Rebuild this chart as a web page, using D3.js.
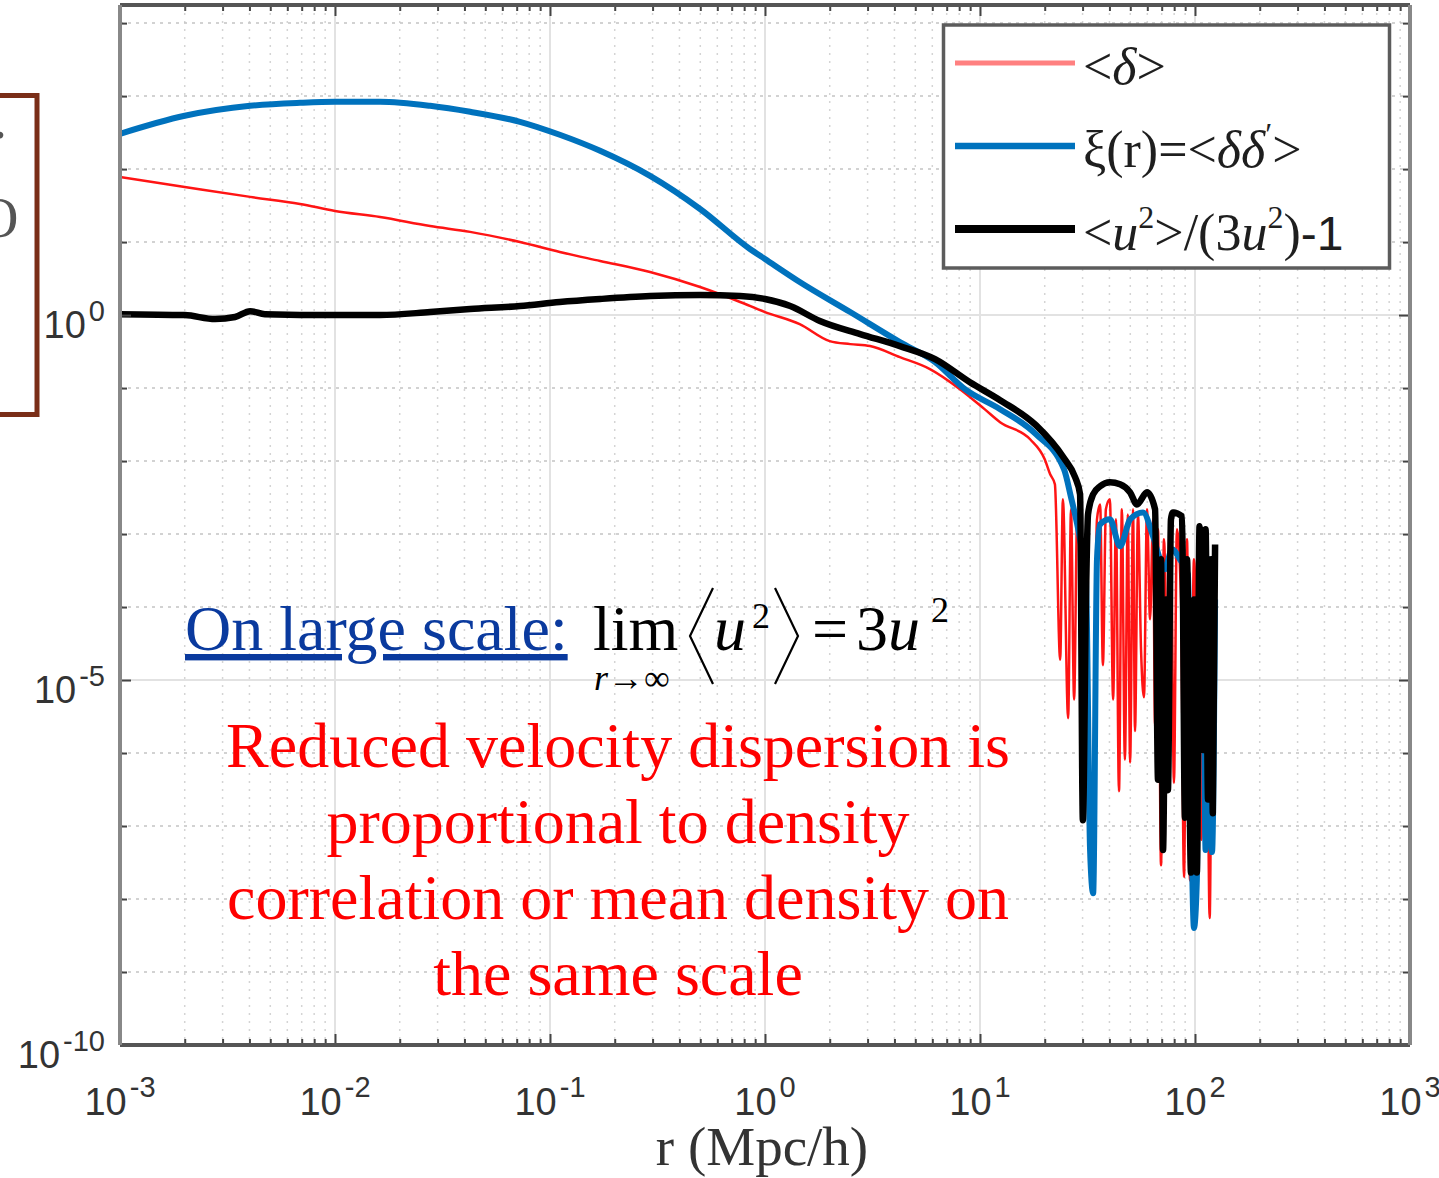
<!DOCTYPE html>
<html>
<head>
<meta charset="utf-8">
<script src="https://cdn.jsdelivr.net/npm/d3@7"></script>
<style>
    body { margin: 0; background: #fff; }
    svg { display: block; }
    .sans { font-family: 'Liberation Sans', Arial, sans-serif; }
    .serif { font-family: 'Liberation Serif', 'Times New Roman', serif; }
</style>
</head>
<body>
<div id="chart"></div>
<script>
// Log-log plot: <delta>, xi(r) and reduced velocity dispersion vs r

// <delta>
const rDelta = [0.001, 0.002, 0.00403, 0.00687, 0.01, 0.0162, 0.0277, 0.0425, 0.0725, 0.111,
    0.171, 0.292, 0.499, 0.766, 1.0, 1.45, 2.0, 2.49, 3.08, 4.24, 5.85, 8.07, 10.5, 12.4, 17.1,
    20.0, 21.2, 22.3, 23.6, 24.3, 25.7, 26.5, 27.4, 28.3, 29.2, 30.1, 31.8, 33.2, 35.0, 36.2,
    37.3, 38.5, 40.2, 41.6, 42.9, 44.3, 45.7, 47.2, 48.7, 49.9, 51.5, 52.6, 54.3, 56.1, 57.9,
    59.8, 61.8, 63.8, 65.2, 67.3, 69.5, 71.7, 74.8, 77.3, 79.8, 82.4, 86.1, 88.9, 91.8, 94.8,
    98.9, 103, 107, 110, 114, 117, 121, 124];
const vDelta = [78.2, 57.0, 41.6, 33.3, 26.7, 22.1, 16.6, 13.8, 10.0, 7.31,
    5.51, 3.89, 2.42, 1.51, 1.10, 0.753, 0.44, 0.40, 0.376, 0.265, 0.182, 0.0966, 0.0514, 0.0341, 0.0199,
    0.0106, 6.59e-3, 4.81e-3, 1.9e-5, 2.99e-3, 3.0e-6, 2.18e-3, 5.4e-6, 1.59e-3, 8.5e-4, 4.5e-4, 4.3e-7, 3.7e-8, 1.59e-3, 2.55e-3,
    1.6e-5, 2.18e-3, 2.99e-3, 5.4e-6, 1.59e-3, 3.0e-7, 2.18e-3, 8.1e-7, 1.86e-3, 7.4e-7, 2.18e-3, 2.0e-6, 1.86e-3, 2.6e-5, 5.8e-6,
    2.18e-3, 6.8e-5, 1.59e-3, 2.3e-6, 1.16e-3, 2.9e-8, 8.5e-4, 5.4e-6, 1.16e-3, 3.9e-7, 1.16e-3, 1.27e-4, 2.0e-8, 8.5e-4, 1.8e-8,
    4.5e-4, 5.4e-6, 6.5e-8, 7.2e-4, 5.4e-6, 5.5e-9, 4.5e-4, 2.4e-4];

// xi(r) = <delta delta'>
const rXi = [0.001, 0.002, 0.00403, 0.00687, 0.01, 0.0162, 0.0277, 0.0425, 0.0725, 0.111,
    0.171, 0.292, 0.499, 0.851, 1.0, 1.45, 2.49, 4.24, 6.18, 8.51, 12.4, 18.2, 24.6, 26.5, 29.2,
    31.1, 32.5, 33.6, 35.0, 36.2, 40.2, 44.8, 49.9, 57.3, 63.8, 68.8, 72.5, 78.1, 85.1, 92.7,
    95.8, 98.9, 102, 105, 109, 112, 116, 120, 124];
const vXi = [304, 537, 736, 809, 836, 836, 736, 609, 444, 295,
    178, 80.7, 28.4, 8.04, 5.86, 2.84, 1.10, 0.426, 0.227, 0.0966, 0.0514, 0.0233, 7.71e-3, 3.19e-3, 8.5e-4,
    2.4e-4, 4.7e-8, 1.2e-8, 4.5e-4, 1.36e-3, 1.59e-3, 6.8e-4, 1.59e-3, 1.98e-3, 9.3e-4, 4.5e-4, 3.3e-4, 6.2e-4, 4.5e-4, 2.8e-4,
    2.3e-7, 4.0e-9, 1.8e-8, 2.4e-4, 1.27e-4, 4.7e-8, 4.5e-4, 4.4e-8, 1.27e-4];

// <u^2>/(3u^2) - 1
const rVel = [0.001, 0.002, 0.00277, 0.00343, 0.00403, 0.00472, 0.01, 0.0162, 0.0277, 0.0425,
    0.0725, 0.111, 0.171, 0.292, 0.499, 0.766, 1.0, 1.31, 1.80, 2.77, 4.24, 6.18, 8.98, 12.4, 18.2,
    24.6, 27.7, 29.2, 30.1, 31.1, 31.8, 33.6, 36.2, 40.2, 44.8, 49.9, 53.7, 59.8, 65.2, 67.3,
    69.5, 71.0, 73.3, 74.8, 77.3, 79.0, 87.0, 89.8, 91.8, 95.8, 98.9, 102, 105, 109, 112,
    115, 119, 121, 124];
const vVel = [1.03, 1.0, 0.88, 0.94, 1.13, 1.03, 1.0, 1.0, 1.10, 1.21,
    1.33, 1.51, 1.66, 1.82, 1.88, 1.82, 1.66, 1.33, 0.83, 0.549, 0.376, 0.249, 0.120, 0.0682, 0.0310,
    0.0109, 6.0e-3, 3.51e-3, 1.2e-7, 1.27e-4, 1.86e-3, 3.51e-3, 4.51e-3, 5.12e-3, 4.81e-3, 3.73e-3, 2.55e-3, 3.73e-3, 2.18e-3, 4.3e-7,
    4.5e-4, 4.7e-8, 1.27e-4, 3.1e-7, 1.59e-3, 1.98e-3, 1.75e-3, 1.3e-7, 4.5e-4, 2.3e-8, 1.27e-4, 2.3e-8, 1.28e-3, 1.1e-6, 1.16e-3,
    2.3e-7, 4.5e-4, 1.5e-7, 7.2e-4];

// Axis ticks (exponents of 10)
const xTickExp = [-3, -2, -1, 0, 1, 2, 3];
const yTickExp = [0, -5, -10];
const yDomain = [1e-10, 1.77e4];

// Legend labels, ^ marks a superscript character
const legendLabels = ['<δ>', 'ξ(r)=<δδ^′>', '<u^2>/(3u^2)-1'];

const noteLines = ['Reduced velocity dispersion is', 'proportional to density',
    'correlation or mean density on', 'the same scale'];

const W = 1439, H = 1178;
const margin = {top: 5, right: 29, bottom: 133, left: 120};
const width = W - margin.left - margin.right;
const height = H - margin.top - margin.bottom;

const svg = d3.select('#chart').append('svg')
    .attr('width', W)
    .attr('height', H);

// Stray box from the slide on the left
svg.append('rect')
    .attr('x', -30).attr('y', 95.5)
    .attr('width', 67).attr('height', 319)
    .attr('fill', 'none')
    .attr('stroke', '#7a2e18')
    .attr('stroke-width', 5);
svg.append('text').attr('class', 'serif')
    .attr('x', -7).attr('y', 138)
    .attr('font-size', 56).attr('fill', '#555')
    .text('.');
svg.append('text').attr('class', 'serif')
    .attr('x', -22).attr('y', 237)
    .attr('font-size', 56).attr('fill', '#555')
    .text('O');

const g = svg.append('g')
    .attr('transform', `translate(${margin.left},${margin.top})`);

// Scales
const x = d3.scaleLog().domain([1e-3, 1e3]).range([0, width]);
const y = d3.scaleLog().domain(yDomain).range([height, 0]);

const xMajor = xTickExp.map(e => Math.pow(10, e));
const xMinor = [];
xTickExp.slice(0, -1).forEach(e => {
    for (let m = 2; m <= 9; m++) xMinor.push(m * Math.pow(10, e));
});
const yMajor = yTickExp.map(e => Math.pow(10, e));
const yMinor = d3.range(-10, 5).filter(e => !yTickExp.includes(e)).map(e => Math.pow(10, e));

g.append('rect')
    .attr('width', width).attr('height', height)
    .attr('fill', '#fff');

// Grid
g.append('g').selectAll('line')
    .data(xMinor)
    .join('line')
    .attr('x1', d => x(d)).attr('x2', d => x(d))
    .attr('y1', 0).attr('y2', height)
    .attr('stroke', '#d4d4d4')
    .attr('stroke-width', 1.5)
    .attr('stroke-dasharray', '2,6');

g.append('g').selectAll('line')
    .data(yMinor)
    .join('line')
    .attr('x1', 0).attr('x2', width)
    .attr('y1', d => y(d)).attr('y2', d => y(d))
    .attr('stroke', '#c4c4c4')
    .attr('stroke-width', 1.5)
    .attr('stroke-dasharray', '3,5');

g.append('g').selectAll('line')
    .data(xMajor.slice(1, -1))
    .join('line')
    .attr('x1', d => x(d)).attr('x2', d => x(d))
    .attr('y1', 0).attr('y2', height)
    .attr('stroke', '#e2e2e2')
    .attr('stroke-width', 2);

g.append('g').selectAll('line')
    .data(yMajor.slice(0, -1))
    .join('line')
    .attr('x1', 0).attr('x2', width)
    .attr('y1', d => y(d)).attr('y2', d => y(d))
    .attr('stroke', '#e2e2e2')
    .attr('stroke-width', 2);

// Series
const series = [
    {r: rDelta, v: vDelta, color: '#ff1414', legendColor: '#ff8080', width: 2.5, legendWidth: 5},
    {r: rXi, v: vXi, color: '#0072bd', legendColor: '#0072bd', width: 6, legendWidth: 6.5},
    {r: rVel, v: vVel, color: '#000000', legendColor: '#000000', width: 6.5, legendWidth: 8}
];

g.append('clipPath').attr('id', 'plot-clip')
    .append('rect').attr('width', width).attr('height', height);

const line = d3.line()
    .x(d => x(d[0]))
    .y(d => y(d[1]))
    .curve(d3.curveMonotoneX);

g.append('g')
    .attr('clip-path', 'url(#plot-clip)')
    .selectAll('path')
    .data(series)
    .join('path')
    .attr('d', s => line(d3.zip(s.r, s.v)))
    .attr('fill', 'none')
    .attr('stroke', s => s.color)
    .attr('stroke-width', s => s.width)
    .attr('stroke-linejoin', 'round');

// Ticks (inward, on all four sides)
function ticks(axis, values, size, transform) {
    const a = g.append('g')
        .attr('transform', transform)
        .call(axis.tickValues(values).tickSize(-size).tickFormat(''));
    a.select('.domain').remove();
    a.selectAll('.tick line').attr('stroke', '#444').attr('stroke-width', 2);
}
ticks(d3.axisBottom(x), xMinor, 6, `translate(0,${height})`);
ticks(d3.axisBottom(x), xMajor, 11, `translate(0,${height})`);
ticks(d3.axisTop(x), xMinor, 6, 'translate(0,0)');
ticks(d3.axisTop(x), xMajor, 11, 'translate(0,0)');
ticks(d3.axisLeft(y), yMinor, 7, 'translate(0,0)');
ticks(d3.axisLeft(y), yMajor, 11, 'translate(0,0)');
ticks(d3.axisRight(y), yMinor, 7, `translate(${width},0)`);
ticks(d3.axisRight(y), yMajor, 11, `translate(${width},0)`);

// Frame
g.append('line').attr('x1', 0).attr('x2', width).attr('y1', 0).attr('y2', 0)
    .attr('stroke', '#555').attr('stroke-width', 4);
g.append('line').attr('x1', 0).attr('x2', width).attr('y1', height).attr('y2', height)
    .attr('stroke', '#555').attr('stroke-width', 4);
g.append('line').attr('x1', 0).attr('x2', 0).attr('y1', 0).attr('y2', height)
    .attr('stroke', '#888').attr('stroke-width', 4);
g.append('line').attr('x1', width).attr('x2', width).attr('y1', 0).attr('y2', height)
    .attr('stroke', '#888').attr('stroke-width', 4);

// Tick labels
g.append('g').selectAll('text')
    .data(xTickExp)
    .join('text')
    .attr('class', 'sans')
    .attr('x', d => x(Math.pow(10, d)))
    .attr('y', height + 70)
    .attr('text-anchor', 'middle')
    .attr('font-size', 38)
    .attr('fill', '#333')
    .each(function(d) {
        const t = d3.select(this);
        t.append('tspan').text('10');
        t.append('tspan').attr('dx', 3).attr('dy', -18).attr('font-size', 29).text(d);
    });

g.append('g').selectAll('text')
    .data(yTickExp)
    .join('text')
    .attr('class', 'sans')
    .attr('x', -15)
    .attr('y', d => y(Math.pow(10, d)) + 23)
    .attr('text-anchor', 'end')
    .attr('font-size', 38)
    .attr('fill', '#333')
    .each(function(d) {
        const t = d3.select(this);
        t.append('tspan').text('10');
        t.append('tspan').attr('dx', 3).attr('dy', -17).attr('font-size', 29).text(d);
    });

// Axis title
svg.append('text')
    .attr('class', 'serif')
    .attr('x', 762).attr('y', 1165)
    .attr('text-anchor', 'middle')
    .attr('font-size', 55)
    .attr('fill', '#333')
    .text('r (Mpc/h)');

// Legend
const legend = svg.append('g');
legend.append('rect')
    .attr('x', 943.5).attr('y', 25)
    .attr('width', 446).attr('height', 243)
    .attr('fill', '#fff')
    .attr('stroke', '#5c5c5c')
    .attr('stroke-width', 3.5);

const rows = legend.selectAll('.row')
    .data(series.map((s, i) => ({...s, label: legendLabels[i], i})))
    .join('g')
    .attr('class', 'row')
    .attr('transform', d => `translate(0,${d.i * 83})`);

rows.append('line')
    .attr('x1', 955).attr('x2', 1075)
    .attr('y1', 63).attr('y2', 63)
    .attr('stroke', d => d.legendColor)
    .attr('stroke-width', d => d.legendWidth);

rows.append('text')
    .attr('class', 'serif')
    .attr('x', 1083).attr('y', 84)
    .attr('font-size', 52)
    .attr('fill', '#1e1e1e')
    .each(function(d) {
        const t = d3.select(this);
        const chars = Array.from(d.label);
        let shift = 0;
        for (let k = 0; k < chars.length; k++) {
            const c = chars[k];
            if (c === '^') {
                t.append('tspan')
                    .attr('dy', -22 + shift)
                    .attr('font-size', 32)
                    .text(chars[++k]);
                shift = 22;
                continue;
            }
            const span = t.append('tspan');
            if (shift) span.attr('dy', shift);
            shift = 0;
            if (c === '-') {
                span.attr('class', 'sans').attr('font-size', 48).text(chars.slice(k).join(''));
                break;
            }
            span.attr('font-style', c === 'δ' || c === 'u' ? 'italic' : null).text(c);
        }
    });

// Annotation: large scale limit
svg.append('text')
    .attr('class', 'serif')
    .attr('x', 185).attr('y', 650)
    .attr('font-size', 64)
    .attr('fill', '#0a3a9e')
    .style('text-decoration', 'underline')
    .text('On large scale:');

const eq = svg.append('g').attr('class', 'serif').attr('fill', '#000');
eq.append('text').attr('x', 593).attr('y', 650).attr('font-size', 64).text('lim');
eq.append('text').attr('x', 594).attr('y', 690).attr('font-size', 36)
    .call(t => {
        t.append('tspan').attr('font-style', 'italic').text('r');
        t.append('tspan').text('→∞');
    });
eq.append('text').attr('x', 714).attr('y', 650).attr('font-size', 64)
    .attr('font-style', 'italic').text('u');
eq.append('text').attr('x', 752).attr('y', 628).attr('font-size', 36).text('2');
eq.append('text').attr('x', 812).attr('y', 650).attr('font-size', 64).text('=');
eq.append('text').attr('x', 856).attr('y', 650).attr('font-size', 64)
    .call(t => {
        t.append('tspan').text('3');
        t.append('tspan').attr('font-style', 'italic').text('u');
    });
eq.append('text').attr('x', 931).attr('y', 622).attr('font-size', 36).text('2');

// Angle brackets
const bracket = d3.line();
eq.append('path')
    .attr('d', bracket([[713, 588], [690, 636], [713, 684]]))
    .attr('fill', 'none').attr('stroke', '#000').attr('stroke-width', 2.2);
eq.append('path')
    .attr('d', bracket([[775, 588], [798, 636], [775, 684]]))
    .attr('fill', 'none').attr('stroke', '#000').attr('stroke-width', 2.2);

// Annotation: red note
svg.append('g').selectAll('text')
    .data(noteLines)
    .join('text')
    .attr('class', 'serif')
    .attr('x', 618)
    .attr('y', (d, i) => 767 + i * 76)
    .attr('text-anchor', 'middle')
    .attr('font-size', 64)
    .attr('fill', '#ff0000')
    .text(d => d);
</script>
</body>
</html>
